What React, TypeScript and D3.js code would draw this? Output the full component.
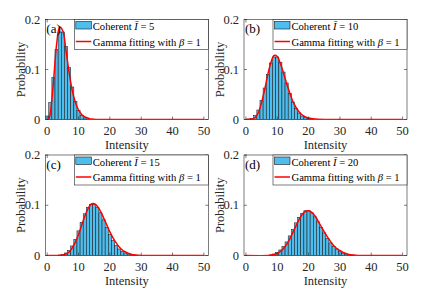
import * as d3 from "d3";

const W = 436;
const H = 297;
const FONT = "Liberation Serif, Times New Roman, Times, DejaVu Serif, serif";

// histogram: integer intensity bins and probabilities
const binsA = [0, 1, 2, 3, 4, 5, 6, 7, 8, 9, 10, 11, 12, 13];
const probA = [0.007, 0.034, 0.084, 0.14, 0.175, 0.175, 0.146, 0.104, 0.065, 0.036, 0.018, 0.008, 0.003, 0.001];

const binsB = [1, 2, 3, 4, 5, 6, 7, 8, 9, 10, 11, 12, 13, 14, 15, 16, 17, 18, 19, 20, 21];
const probB = [0.001, 0.002, 0.008, 0.019, 0.038, 0.063, 0.09, 0.113, 0.125, 0.125, 0.114, 0.095, 0.073, 0.052, 0.035, 0.022, 0.013, 0.007, 0.004, 0.002, 0.001];

const binsC = [4, 5, 6, 7, 8, 9, 10, 11, 12, 13, 14, 15, 16, 17, 18, 19, 20, 21, 22, 23, 24, 25, 26, 27, 28];
const probC = [0.001, 0.002, 0.005, 0.01, 0.019, 0.032, 0.049, 0.066, 0.083, 0.096, 0.102, 0.102, 0.096, 0.085, 0.071, 0.056, 0.042, 0.03, 0.02, 0.013, 0.008, 0.005, 0.003, 0.002, 0.001];

const binsD = [8, 9, 10, 11, 12, 13, 14, 15, 16, 17, 18, 19, 20, 21, 22, 23, 24, 25, 26, 27, 28, 29, 30, 31, 32, 33, 34];
const probD = [0.001, 0.003, 0.006, 0.011, 0.018, 0.027, 0.039, 0.052, 0.065, 0.076, 0.084, 0.089, 0.089, 0.085, 0.077, 0.067, 0.056, 0.045, 0.034, 0.025, 0.018, 0.013, 0.008, 0.005, 0.003, 0.002, 0.001];

// gamma fit curves (beta = 1)
const fitXA = [0, 0.5, 1, 2, 3, 4, 5, 6, 7, 8, 9, 10, 11, 12, 13, 14, 16, 20, 30, 40, 50];
const fitYA = [0, 0.001, 0.013, 0.075, 0.15, 0.185, 0.177, 0.138, 0.094, 0.058, 0.034, 0.019, 0.01, 0.005, 0.003, 0.001, 0, 0, 0, 0, 0];

const fitXB = [0, 2, 3, 4, 5, 6, 7, 8, 9, 10, 11, 12, 13, 14, 15, 16, 17, 18, 19, 20, 22, 25, 30, 40, 50];
const fitYB = [0, 0.001, 0.004, 0.014, 0.034, 0.06, 0.09, 0.114, 0.128, 0.126, 0.112, 0.093, 0.072, 0.053, 0.036, 0.024, 0.015, 0.009, 0.005, 0.003, 0.001, 0, 0, 0, 0];

const fitXC = [0, 4, 5, 6, 7, 8, 9, 10, 11, 12, 13, 14, 15, 16, 17, 18, 19, 20, 21, 22, 23, 24, 25, 26, 27, 28, 30, 40, 50];
const fitYC = [0, 0, 0.001, 0.003, 0.007, 0.015, 0.027, 0.042, 0.06, 0.078, 0.093, 0.102, 0.103, 0.098, 0.088, 0.075, 0.061, 0.047, 0.035, 0.025, 0.017, 0.011, 0.007, 0.004, 0.002, 0.001, 0, 0, 0];

const fitXD = [0, 7, 8, 9, 10, 11, 12, 13, 14, 15, 16, 17, 18, 19, 20, 21, 22, 23, 24, 25, 26, 27, 28, 29, 30, 31, 32, 33, 34, 36, 40, 50];
const fitYD = [0, 0, 0.001, 0.002, 0.004, 0.008, 0.014, 0.022, 0.033, 0.046, 0.059, 0.072, 0.082, 0.088, 0.089, 0.086, 0.079, 0.069, 0.058, 0.047, 0.037, 0.028, 0.02, 0.014, 0.01, 0.006, 0.004, 0.002, 0.001, 0, 0, 0];

const meanLabels = ["5", "10", "15", "20"];
const panelTags = ["(a)", "(b)", "(c)", "(d)"];
const xTicks = [0, 10, 20, 30, 40, 50];
const yTicks = [0, 0.1, 0.2];

const panels = [
  { bins: binsA, probs: probA, fx: fitXA, fy: fitYA, left: 45.3, right: 208.3, top: 19.5, bottom: 119.5 },
  { bins: binsB, probs: probB, fx: fitXB, fy: fitYB, left: 244, right: 407, top: 19.5, bottom: 119.5 },
  { bins: binsC, probs: probC, fx: fitXC, fy: fitYC, left: 45.3, right: 208.3, top: 155, bottom: 255.5 },
  { bins: binsD, probs: probD, fx: fitXD, fy: fitYD, left: 244, right: 407, top: 155, bottom: 255.5 },
];

const AXIS = "#262626";
const txt = { fontFamily: FONT } as const;

function Panel({ p, i }: { p: (typeof panels)[number]; i: number }) {
  const x = d3.scaleLinear().domain([-0.6, 51.4]).range([p.left, p.right]);
  const y = d3.scaleLinear().domain([0, 0.2]).range([p.bottom, p.top]);
  const line = d3
    .line<number>()
    .x((d, k) => x(p.fx[k]))
    .y((d) => y(d))
    .curve(d3.curveCatmullRom.alpha(0.5));
  const clipId = `clip-${i}`;
  const legL = p.left + 29;
  const legT = p.top;
  const tick = 3;

  return (
    <g>
      <defs>
        <clipPath id={clipId}>
          <rect x={p.left} y={p.top} width={p.right - p.left} height={p.bottom - p.top} />
        </clipPath>
      </defs>
      <rect x={p.left} y={p.top} width={p.right - p.left} height={p.bottom - p.top} fill="#fff" />
      <g clipPath={`url(#${clipId})`}>
        {p.bins.map((b, k) => (
          <rect
            key={k}
            x={x(b - 0.5)}
            y={y(p.probs[k])}
            width={x(b + 0.5) - x(b - 0.5)}
            height={y(0) - y(p.probs[k])}
            fill="#4DBEEE"
            stroke="#1a1a1a"
            strokeWidth={0.55}
          />
        ))}
        <path d={line(p.fy) ?? ""} fill="none" stroke="#ff0000" strokeWidth={1.5} />
      </g>
      {/* axes box and ticks */}
      <rect x={p.left} y={p.top} width={p.right - p.left} height={p.bottom - p.top} fill="none" stroke={AXIS} strokeWidth={0.6} />
      {xTicks.map((t) => (
        <g key={`x${t}`}>
          <line x1={x(t)} x2={x(t)} y1={p.bottom} y2={p.bottom - tick} stroke={AXIS} strokeWidth={0.6} />
          <line x1={x(t)} x2={x(t)} y1={p.top} y2={p.top + tick} stroke={AXIS} strokeWidth={0.6} />
          <text x={x(t)} y={p.bottom + 15} textAnchor="middle" fontSize={12.5} fill={AXIS} style={txt}>
            {t}
          </text>
        </g>
      ))}
      {yTicks.map((t) => (
        <g key={`y${t}`}>
          <line x1={p.left} x2={p.left + tick} y1={y(t)} y2={y(t)} stroke={AXIS} strokeWidth={0.6} />
          <line x1={p.right} x2={p.right - tick} y1={y(t)} y2={y(t)} stroke={AXIS} strokeWidth={0.6} />
          <text x={p.left - 5} y={y(t) + 4} textAnchor="end" fontSize={12.5} fill={AXIS} style={txt}>
            {t === 0 ? "0" : String(t)}
          </text>
        </g>
      ))}
      <text x={(p.left + p.right) / 2} y={p.bottom + 29} textAnchor="middle" fontSize={12.5} fill={AXIS} style={txt}>
        Intensity
      </text>
      <text
        transform={`translate(${p.left - 20.5},${(p.top + p.bottom) / 2}) rotate(-90)`}
        textAnchor="middle"
        fontSize={12.5}
        fill={AXIS}
        style={txt}
      >
        Probability
      </text>
      {/* legend */}
      <rect x={legL} y={legT} width={p.right - legL} height={30} fill="#fff" stroke={AXIS} strokeWidth={0.6} />
      <rect x={legL + 1.5} y={legT + 2} width={15.5} height={7.5} fill="#4DBEEE" stroke="#1a1a1a" strokeWidth={0.6} />
      <text x={legL + 18.5} y={legT + 10.5} fontSize={10.6} fill="#000" style={txt}>
        Coherent <tspan fontStyle="italic">{"I\u0304"}</tspan> = {meanLabels[i]}
      </text>
      <line x1={legL + 1.5} x2={legL + 17} y1={legT + 22} y2={legT + 22} stroke="#ff0000" strokeWidth={1.5} />
      <text x={legL + 18.5} y={legT + 26} fontSize={10.6} fill="#000" style={txt}>
        Gamma fitting with <tspan fontStyle="italic">β</tspan> = 1
      </text>
      <text x={p.left + 1} y={p.top + 13.5} fontSize={13} fill="#000" style={txt}>
        {panelTags[i]}
      </text>
    </g>
  );
}

export default function App() {
  return (
    <svg
      width={W}
      height={H}
      viewBox={`0 0 ${W} ${H}`}
      style={{ position: "absolute", left: 0, top: 0, background: "#fff" }}
    >
      <rect width={W} height={H} fill="#fff" />
      {panels.map((p, i) => (
        <Panel key={i} p={p} i={i} />
      ))}
    </svg>
  );
}
